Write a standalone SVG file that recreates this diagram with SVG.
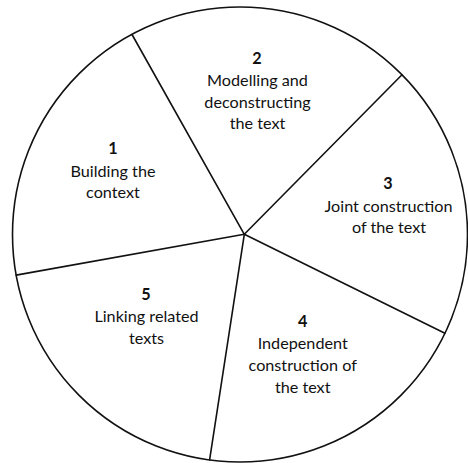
<svg xmlns="http://www.w3.org/2000/svg" width="468" height="463" viewBox="0 0 468 463">
<style>
.ln{stroke:#111;stroke-width:1.6;fill:none;stroke-linecap:round}
text{font-family:Lato,"Open Sans","Liberation Sans",sans-serif;font-size:16.2px;fill:#111;text-anchor:middle}
.n{font-weight:bold}
</style>
<rect width="468" height="463" fill="#fff"/>
<g id="wheel">
<circle class="ln" cx="240" cy="234.5" r="227.5"/>
</g>
<g id="connectors">
<line class="ln" x1="244.3" y1="234.3" x2="132" y2="34.5"/>
<line class="ln" x1="244.3" y1="234.3" x2="402" y2="74.8"/>
<line class="ln" x1="244.3" y1="234.3" x2="444.9" y2="333.3"/>
<line class="ln" x1="244.3" y1="234.3" x2="209.6" y2="459.9"/>
<line class="ln" x1="244.3" y1="234.3" x2="16.2" y2="275.1"/>
</g>
<g id="stage1">
<text class="n" x="113" y="154">1</text>
<text x="113" y="176.5">Building the</text>
<text x="113" y="198">context</text>
</g>
<g id="stage2">
<text class="n" x="257" y="64">2</text>
<text x="257.5" y="86">Modelling and</text>
<text x="257.5" y="107.5">deconstructing</text>
<text x="257.5" y="129">the text</text>
</g>
<g id="stage3">
<text class="n" x="388" y="189">3</text>
<text x="388.5" y="211.5">Joint construction</text>
<text x="389" y="233">of the text</text>
</g>
<g id="stage4">
<text class="n" x="302.7" y="327">4</text>
<text x="302.7" y="349">Independent</text>
<text x="302.7" y="371">construction of</text>
<text x="302.7" y="393">the text</text>
</g>
<g id="stage5">
<text class="n" x="146" y="300">5</text>
<text x="146.5" y="322">Linking related</text>
<text x="146.5" y="344">texts</text>
</g>
</svg>
